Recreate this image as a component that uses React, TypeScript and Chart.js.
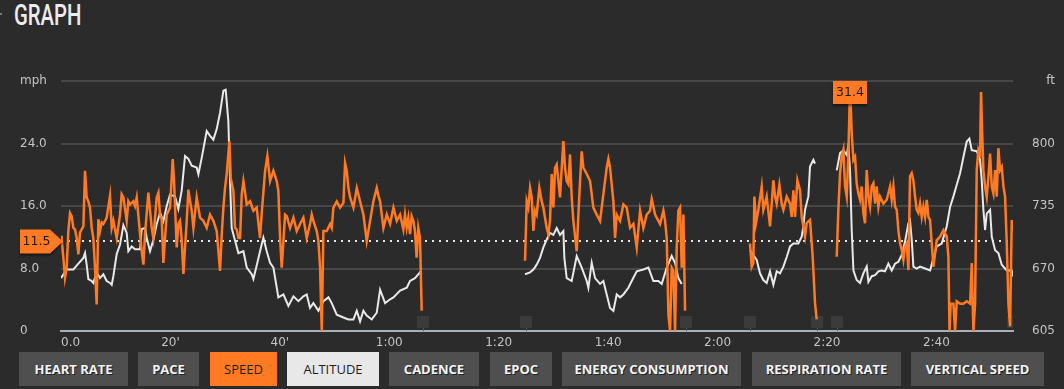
import React, { useEffect, useRef } from 'react';
import { Chart, registerables } from 'chart.js';

Chart.register(...registerables);

const ORANGE = '#ff7a22';
const ALT_COLOR = '#e9e9e9';

// time axis (minutes)
const X_TICKS = [0, 20, 40, 60, 80, 100, 120, 140, 160];
const X_MAX = 174;
// left axis (mph) and right axis (ft)
const SPEED_TICKS = [0, 8, 16, 24, 32];
const ALT_TICKS = [605, 670, 735, 800, 865];
const SPEED_UNIT = 'mph';
const ALT_UNIT = 'ft';
const AVG_SPEED = 11.5;
// lap markers (minutes)
const LAP_TIMES = [66.2, 85.0, 114.2, 126.0, 138.2, 141.8, 174.0];

const BUTTON_LABELS = ['HEART RATE', 'PACE', 'SPEED', 'ALTITUDE', 'CADENCE', 'EPOC', 'ENERGY CONSUMPTION', 'RESPIRATION RATE', 'VERTICAL SPEED'];
const BUTTON_STATES = ['off', 'off', 'speed', 'alt', 'off', 'off', 'off', 'off', 'off'];
const BUTTON_LEFT = [19, 138, 210, 287, 389, 490, 562, 752, 911];
const BUTTON_WIDTH = [109, 61, 67, 92, 90, 62, 179, 149, 133];

// [minute, mph]
const SPEED_SAMPLES: [number, number | null][] = [
  [0, 12.2], [0.12, 11.7], [0.43, 9.4], [0.73, 6.8], [1.04, 8.1], [1.34, 12.8], [1.65, 15.1], [1.95, 14.7], [2.26, 13.2], [2.56, 13.0],
  [2.87, 11.9], [3.17, 9.8], [3.48, 12.6], [3.78, 13.0], [4.09, 13.4], [4.39, 20.5], [4.69, 17.1], [5.0, 16.6], [5.3, 15.8], [5.61, 13.2],
  [5.91, 11.9], [6.22, 8.1], [6.52, 3.4], [6.83, 14.3], [7.13, 12.8], [7.44, 13.9], [7.74, 13.7], [8.35, 14.5], [8.96, 17.3], [9.27, 13.2],
  [9.57, 14.1], [10.18, 11.9], [10.79, 14.9], [11.09, 17.5], [11.4, 17.1], [12.01, 14.1], [12.31, 16.6], [12.62, 16.2], [13.23, 16.6], [13.53, 16.0],
  [13.84, 17.1], [14.45, 12.4], [14.75, 10.2], [15.06, 8.5], [15.36, 12.4], [15.97, 17.7], [16.27, 15.4], [16.58, 13.2], [16.88, 11.9], [17.49, 17.1],
  [17.8, 17.7], [18.1, 14.9], [18.41, 14.3], [18.71, 8.7], [19.02, 11.9], [19.32, 14.9], [19.93, 15.8], [20.42, 22.0], [20.66, 19.2], [21.15, 10.7],
  [21.45, 13.7], [21.76, 14.1], [22.06, 11.7], [22.37, 7.3], [22.67, 10.7], [22.98, 14.1], [23.28, 18.1], [23.59, 16.6], [23.89, 15.4], [24.2, 13.2],
  [24.8, 17.1], [25.41, 14.5], [26.02, 14.1], [26.63, 13.2], [27.24, 14.9], [27.85, 14.1], [28.46, 12.8], [29.07, 7.7], [29.38, 12.4], [29.68, 15.8],
  [29.98, 18.3], [30.29, 20.1], [30.78, 24.3], [31.02, 19.6], [31.51, 17.9], [31.81, 13.2], [32.12, 13.0], [32.42, 11.9], [32.73, 11.9], [33.03, 17.5],
  [33.34, 19.2], [33.95, 16.2], [34.55, 16.6], [35.16, 15.4], [35.77, 15.8], [36.38, 11.9], [36.69, 15.1], [37.3, 20.5], [37.72, 22.4], [38.21, 19.2],
  [38.82, 20.5], [39.43, 19.2], [39.73, 17.9], [40.04, 11.9], [40.34, 8.1], [40.65, 11.5], [40.95, 14.9], [41.26, 14.7], [41.87, 13.2], [42.48, 14.5],
  [43.09, 12.8], [43.7, 13.7], [44.3, 14.5], [44.91, 11.9], [45.52, 13.7], [45.83, 14.9], [46.13, 14.1], [46.74, 12.8], [47.05, 11.5], [47.35, 8.1],
  [47.66, 0], [47.96, 12.8], [48.57, 12.8], [49.18, 13.7], [49.48, 13.2], [49.79, 15.8], [50.4, 16.6], [51.01, 15.8], [51.62, 16.4], [51.92, 21.5],
  [52.23, 20.5], [52.53, 18.3], [52.84, 17.1], [53.45, 15.8], [54.06, 18.3], [54.66, 16.6], [55.27, 14.9], [55.88, 11.5], [56.49, 14.1], [57.1, 16.6],
  [57.71, 18.3], [58.02, 17.3], [58.32, 16.6], [58.93, 13.2], [59.54, 14.9], [60.15, 13.7], [60.76, 15.8], [61.37, 14.1], [61.98, 14.9], [62.57, 13.0],
  [62.87, 14.9], [63.18, 13.2], [63.48, 14.5], [63.79, 12.4], [64.09, 14.7], [64.4, 14.1], [64.7, 12.8], [65.0, 9.4], [65.31, 13.2], [65.62, 11.9],
  [65.92, 2.6], [75, null],
  [84.81, 9.0], [85.12, 16.6], [85.42, 15.8], [85.73, 18.3], [86.03, 17.1], [86.34, 12.8], [86.64, 15.4], [86.94, 14.9], [87.43, 18.3], [87.86, 16.6],
  [88.16, 15.8], [88.77, 13.2], [89.08, 12.4], [89.38, 14.1], [89.69, 20.1], [89.99, 15.8], [90.3, 20.9], [90.6, 21.3], [90.91, 19.2], [91.21, 17.1],
  [91.52, 20.9], [91.82, 24.3], [92.12, 20.9], [92.43, 19.2], [92.73, 18.8], [93.04, 22.6], [93.34, 17.1], [93.65, 14.1], [94.26, 10.2], [94.56, 14.9],
  [94.87, 19.2], [95.17, 23.0], [95.48, 20.9], [96.09, 20.1], [96.7, 19.2], [97.3, 15.8], [97.91, 14.9], [98.52, 14.1], [99.13, 17.5], [99.74, 20.9],
  [100.05, 22.0], [100.35, 20.9], [100.96, 16.6], [101.27, 11.9], [101.57, 14.9], [102.18, 14.1], [102.79, 16.2], [103.4, 15.8], [104.01, 13.2], [104.62, 13.7],
  [105.23, 10.7], [105.84, 15.4], [106.44, 13.2], [107.05, 14.9], [107.66, 15.4], [107.97, 16.9], [108.58, 14.9], [109.49, 13.7], [110.1, 15.4], [110.41, 14.1],
  [110.71, 11.9], [111.02, 2.1], [111.32, 0], [111.63, 8.1], [111.93, 7.7], [112.23, 0], [112.54, 10.7], [112.84, 15.4], [113.15, 15.8], [113.45, 8.1],
  [113.76, 14.9], [114.06, 2.6], [120, null],
  [125.93, 11.2], [126.24, 8.2], [126.54, 8.7], [126.73, 17.2], [127.03, 13.8], [127.46, 15.5], [128.07, 18.5], [128.37, 15.5], [128.98, 17.2], [129.59, 13.4],
  [129.9, 16.3], [130.2, 19.3], [130.51, 17.2], [130.81, 16.3], [131.3, 18.7], [131.72, 16.3], [132.03, 15.5], [132.64, 17.2], [133.25, 16.3], [133.55, 14.6],
  [133.86, 18.0], [134.16, 14.6], [134.59, 19.3], [135.08, 18.0], [135.38, 14.6], [135.99, 12.1], [136.29, 13.8], [136.9, 14.2], [137.39, 9.5], [137.82, 3.5],
  [138.12, 1.5], [140, null],
  [141.78, 9.5], [142.08, 15.5], [142.39, 20.2], [142.69, 22.3], [143.0, 23.2], [143.3, 18.5], [143.61, 17.2], [143.91, 22.7], [144.22, 31.4], [144.52, 25.3],
  [144.83, 21.9], [145.13, 22.3], [145.43, 18.9], [145.74, 17.6], [146.04, 16.8], [146.35, 18.5], [146.65, 15.1], [146.96, 13.8], [147.26, 20.6], [147.57, 17.2],
  [147.87, 15.9], [148.18, 18.5], [148.48, 18.9], [148.79, 16.3], [149.09, 18.5], [149.4, 15.9], [149.7, 17.2], [150.31, 16.3], [150.92, 16.8], [151.53, 18.5],
  [151.83, 16.8], [152.14, 18.5], [152.44, 15.9], [152.75, 15.5], [153.05, 12.9], [153.36, 11.2], [153.66, 10.4], [153.97, 9.1], [154.27, 10.8], [154.58, 11.2],
  [154.88, 7.8], [155.18, 19.8], [155.49, 20.2], [155.79, 19.3], [156.1, 17.2], [156.4, 15.5], [156.71, 15.1], [157.01, 16.3], [157.32, 14.6], [157.62, 15.9],
  [157.93, 14.6], [158.23, 16.8], [158.54, 14.6], [158.84, 14.2], [159.15, 11.2], [159.45, 8.2], [160.06, 11.6], [160.67, 12.1], [161.28, 12.9], [161.89, 12.1],
  [162.19, 9.5], [162.4, 0], [162.6, 3.5], [163.11, 3.5], [163.41, 0], [163.72, 3.8], [164.33, 3.5], [164.94, 3.5], [165.55, 3.8], [166.16, 3.5],
  [166.46, 8.7], [166.76, 0], [167.07, 3.5], [167.37, 20.6], [167.68, 23.2], [167.98, 22.7], [168.16, 30.6], [168.35, 25.7], [168.59, 20.6], [168.9, 18.5],
  [169.2, 17.2], [169.51, 19.8], [169.81, 22.7], [170.12, 18.5], [170.42, 17.6], [170.73, 20.6], [171.03, 17.2], [171.33, 23.4], [171.64, 20.6], [171.94, 21.0],
  [172.25, 18.5], [172.55, 17.2], [172.86, 11.2], [173.16, 3.5], [173.47, 0.6], [173.77, 14.2], [174.0, 12.9],
];

// [minute, ft]
const ALTITUDE_SAMPLES: [number, number | null][] = [
  [0, 660], [1.04, 669], [2.26, 669], [3.17, 675], [4.09, 681], [4.39, 686], [4.69, 674], [5.0, 659], [5.61, 657], [5.91, 655],
  [6.52, 666], [7.13, 660], [7.74, 664], [8.35, 657], [8.96, 655], [9.27, 653], [9.57, 662], [10.18, 685], [10.79, 695], [11.4, 715],
  [12.01, 707], [12.31, 688], [12.92, 693], [13.53, 690], [14.45, 690], [14.75, 711], [15.36, 712], [15.66, 702], [16.27, 688], [16.88, 700],
  [17.49, 716], [18.1, 728], [18.71, 719], [19.32, 735], [19.93, 747], [20.84, 745], [21.45, 732], [22.06, 751], [22.67, 787], [23.28, 784],
  [23.89, 777], [24.8, 775], [25.11, 768], [25.72, 785], [26.63, 813], [27.24, 808], [27.85, 804], [28.46, 815], [29.07, 832], [29.68, 855],
  [30.1, 856], [30.59, 823], [30.9, 761], [31.2, 712], [31.81, 699], [32.42, 686], [33.34, 688], [33.95, 671], [34.86, 664], [35.16, 659],
  [35.77, 673], [36.38, 688], [36.99, 702], [37.6, 688], [38.21, 676], [38.82, 671], [39.73, 640], [40.65, 643], [41.56, 631], [42.48, 641],
  [43.39, 636], [44.3, 641], [44.91, 643], [45.52, 629], [46.13, 634], [47.05, 626], [47.96, 636], [48.88, 640], [49.48, 634], [50.4, 622],
  [51.62, 619], [52.53, 617], [53.45, 617], [54.06, 626], [54.66, 615], [55.27, 626], [55.88, 621], [56.8, 617], [57.71, 624], [58.32, 648],
  [59.24, 634], [60.15, 638], [60.76, 640], [61.98, 647], [63.2, 650], [63.79, 657], [64.7, 660], [65.62, 666], [65.92, 664], [75, null],
  [84.81, 664], [85.73, 666], [86.34, 669], [86.94, 674], [87.55, 681], [88.16, 692], [88.77, 700], [89.38, 707], [89.99, 705], [90.6, 712],
  [91.21, 705], [91.82, 709], [92.0, 681], [92.43, 660], [93.34, 657], [94.26, 683], [95.17, 671], [96.09, 657], [96.39, 650], [97.0, 676],
  [97.61, 660], [98.52, 654], [99.13, 657], [99.74, 643], [100.35, 629], [100.96, 626], [101.57, 643], [102.18, 640], [102.79, 643], [103.7, 650],
  [104.31, 657], [105.23, 667], [106.44, 669], [107.36, 671], [108.27, 657], [109.19, 657], [109.8, 654], [110.71, 671], [111.62, 683], [112.23, 676],
  [112.84, 660], [113.45, 654], [120, null],
  [125.93, 689], [126.54, 684], [127.15, 679], [127.76, 665], [128.37, 658], [128.98, 655], [129.59, 667], [130.2, 653], [130.81, 667], [131.42, 665],
  [132.03, 672], [132.64, 682], [133.25, 693], [133.86, 696], [134.77, 696], [135.38, 703], [135.68, 714], [135.99, 731], [136.6, 745], [136.9, 776],
  [137.51, 783], [137.82, 779], [140, null],
  [141.78, 772], [142.39, 790], [143.0, 793], [143.61, 788], [143.91, 798], [144.22, 772], [144.52, 710], [144.83, 668], [145.43, 658], [146.04, 655],
  [146.65, 665], [147.26, 672], [147.57, 656], [148.18, 662], [148.79, 663], [149.4, 667], [150.01, 668], [150.61, 667], [151.22, 675], [151.83, 668],
  [152.44, 675], [153.05, 677], [153.66, 684], [154.27, 698], [154.88, 717], [155.18, 720], [155.49, 700], [155.79, 672], [156.4, 670], [157.01, 672],
  [157.93, 670], [158.84, 668], [159.45, 681], [160.06, 693], [160.97, 696], [161.89, 714], [162.5, 734], [163.11, 745], [163.72, 757], [164.33, 769],
  [164.94, 786], [165.55, 802], [166.03, 805], [166.46, 793], [167.37, 792], [167.98, 783], [168.28, 762], [168.59, 731], [168.9, 710], [169.2, 727],
  [169.81, 731], [170.12, 703], [170.73, 689], [171.33, 686], [171.94, 674], [172.86, 668], [173.77, 668], [174.0, 662],
];

const AXIS_FONT = { family: '"DejaVu Sans", sans-serif', size: 12 };
const AXIS_COLOR = '#c4c4c4';

const fmtTime = (v: number) => {
  if (v === 0) return '0.0';
  if (v < 60) return `${v}'`;
  return `${Math.floor(v / 60)}:${String(v % 60).padStart(2, '0')}`;
};

const overlayPlugin = {
  id: 'overlay',
  beforeDatasetsDraw(chart: any) {
    const { ctx, chartArea: ca, scales } = chart;
    const xs = scales.x;
    const ys = scales.y;
    ctx.save();
    ctx.beginPath();
    ctx.rect(ca.left, ca.top, ca.right - ca.left, ca.bottom - ca.top);
    ctx.clip();
    for (const t of LAP_TIMES) {
      const px = Math.round(xs.getPixelForValue(t));
      ctx.fillStyle = '#3b3b3b';
      ctx.fillRect(px - 6, ca.bottom - 15, 12, 12);
      ctx.fillStyle = '#555555';
      ctx.fillRect(px, ca.bottom - 3, 1, 3);
    }
    const ay = Math.round(ys.getPixelForValue(AVG_SPEED));
    ctx.strokeStyle = '#e8e8e8';
    ctx.lineWidth = 2;
    ctx.setLineDash([2, 5]);
    ctx.beginPath();
    ctx.moveTo(ca.left, ay);
    ctx.lineTo(ca.right, ay);
    ctx.stroke();
    ctx.restore();
  },
  afterDatasetsDraw(chart: any) {
    const { ctx, chartArea: ca, scales } = chart;
    const xs = scales.x;
    const ys = scales.y;
    const font = '12.5px "DejaVu Sans", sans-serif';

    // average tag
    const ay = Math.round(ys.getPixelForValue(AVG_SPEED)) + 0.5;
    const tagLeft = ys.left;
    ctx.save();
    ctx.shadowColor = 'rgba(0,0,0,0.5)';
    ctx.shadowOffsetY = 2;
    ctx.shadowBlur = 2;
    ctx.fillStyle = ORANGE;
    ctx.beginPath();
    ctx.moveTo(tagLeft, ay - 12);
    ctx.lineTo(tagLeft + 30, ay - 12);
    ctx.lineTo(ca.left + 2, ay);
    ctx.lineTo(tagLeft + 30, ay + 12);
    ctx.lineTo(tagLeft, ay + 12);
    ctx.closePath();
    ctx.fill();
    ctx.restore();
    ctx.save();
    ctx.fillStyle = '#1b1b1b';
    ctx.font = font;
    ctx.textAlign = 'center';
    ctx.textBaseline = 'middle';
    ctx.fillText(AVG_SPEED.toFixed(1), tagLeft + 16.5, ay + 0.5);
    ctx.restore();

    // max tag
    let best: [number, number] | null = null;
    for (const [t, v] of SPEED_SAMPLES) {
      if (v !== null && (best === null || v > best[1])) best = [t, v];
    }
    if (best) {
      const px = xs.getPixelForValue(best[0]);
      const py = ys.getPixelForValue(best[1]);
      const w = 34;
      const h = 23;
      ctx.save();
      ctx.shadowColor = 'rgba(0,0,0,0.5)';
      ctx.shadowOffsetY = 2;
      ctx.shadowBlur = 2;
      ctx.fillStyle = ORANGE;
      ctx.fillRect(Math.round(px - w / 2), Math.round(py - 5), w, h);
      ctx.restore();
      ctx.save();
      ctx.fillStyle = '#1b1b1b';
      ctx.font = font;
      ctx.textAlign = 'center';
      ctx.textBaseline = 'middle';
      ctx.fillText(best[1].toFixed(1), Math.round(px), Math.round(py - 5) + h / 2 + 0.5);
      ctx.restore();
    }
  },
};

function GraphChart() {
  const ref = useRef<HTMLCanvasElement | null>(null);
  useEffect(() => {
    if (!ref.current) return;
    const chart = new Chart(ref.current, {
      type: 'line',
      data: {
        datasets: [
          {
            label: 'Speed',
            data: SPEED_SAMPLES.map(([t, v]) => ({ x: t, y: v })),
            yAxisID: 'y',
            borderColor: ORANGE,
            borderWidth: 2.5,
            pointRadius: 0,
            tension: 0,
            spanGaps: false,
            order: 1,
          },
          {
            label: 'Altitude',
            data: ALTITUDE_SAMPLES.map(([t, v]) => ({ x: t, y: v })),
            yAxisID: 'y1',
            borderColor: ALT_COLOR,
            borderWidth: 2,
            pointRadius: 0,
            tension: 0,
            spanGaps: false,
            order: 2,
          },
        ],
      } as any,
      options: {
        animation: false,
        responsive: false,
        maintainAspectRatio: false,
        devicePixelRatio: 1,
        layout: { padding: { top: 81, left: 20, right: 9, bottom: 0 } },
        plugins: { legend: { display: false }, tooltip: { enabled: false } },
        scales: {
          x: {
            type: 'linear',
            min: X_TICKS[0],
            max: X_MAX,
            afterBuildTicks: (scale: any) => {
              scale.ticks = [...X_TICKS, X_MAX].map((value) => ({ value }));
            },
            afterFit: (scale: any) => {
              scale.height = 18;
            },
            ticks: {
              autoSkip: false,
              maxRotation: 0,
              align: 'inner',
              padding: 5,
              color: AXIS_COLOR,
              font: AXIS_FONT,
              callback: (v: any) => (X_TICKS.includes(Number(v)) ? fmtTime(Number(v)) : ''),
            },
            grid: { display: false, drawTicks: false },
            border: { display: true, color: '#a7b0b8', width: 2 },
          },
          y: {
            position: 'left',
            min: SPEED_TICKS[0],
            max: SPEED_TICKS[SPEED_TICKS.length - 1],
            afterFit: (scale: any) => {
              scale.width = 41;
            },
            ticks: {
              stepSize: SPEED_TICKS[1] - SPEED_TICKS[0],
              crossAlign: 'far',
              color: AXIS_COLOR,
              font: AXIS_FONT,
              callback: (v: any) => {
                const n = Number(v);
                if (n === SPEED_TICKS[SPEED_TICKS.length - 1]) return SPEED_UNIT;
                if (n === 0) return '0';
                return n.toFixed(1);
              },
            },
            grid: { color: '#474747', lineWidth: 2, drawTicks: false },
            border: { display: false },
          },
          y1: {
            position: 'right',
            min: ALT_TICKS[0],
            max: ALT_TICKS[ALT_TICKS.length - 1],
            afterFit: (scale: any) => {
              scale.width = 42;
            },
            ticks: {
              stepSize: ALT_TICKS[1] - ALT_TICKS[0],
              crossAlign: 'far',
              color: AXIS_COLOR,
              font: AXIS_FONT,
              callback: (v: any) => {
                const n = Number(v);
                if (n === ALT_TICKS[ALT_TICKS.length - 1]) return ALT_UNIT;
                return String(n);
              },
            },
            grid: { display: false, drawTicks: false },
            border: { display: false },
          },
        },
      } as any,
      plugins: [overlayPlugin],
    });
    return () => chart.destroy();
  }, []);
  return (
    <canvas
      ref={ref}
      width={1064}
      height={349}
      style={{ position: 'absolute', left: 0, top: 0, width: 1064, height: 349 }}
    />
  );
}

export default function App() {
  return (
    <div
      style={{
        position: 'fixed',
        left: 0,
        top: 0,
        width: 1064,
        height: 389,
        background: '#2b2b2b',
        overflow: 'hidden',
      }}
    >
      <div style={{ position: 'absolute', left: 0, top: 13, width: 2, height: 2, background: '#777' }} />
      <div
        style={{
          position: 'absolute',
          left: 14,
          top: 1,
          fontFamily: 'Roboto, sans-serif',
          fontSize: 29,
          fontWeight: 500,
          lineHeight: '29px',
          color: '#ececec',
          transform: 'scaleX(0.7)',
          transformOrigin: 'left top',
          whiteSpace: 'nowrap',
        }}
      >
        GRAPH
      </div>
      <GraphChart />
      {BUTTON_LABELS.map((label, i) => {
        const state = BUTTON_STATES[i];
        const bg = state === 'speed' ? ORANGE : state === 'alt' ? '#e8e8e8' : '#4f4f4f';
        const color = state === 'off' ? '#f4f4f4' : '#1e1e1e';
        return (
          <div
            key={label}
            style={{
              position: 'absolute',
              left: BUTTON_LEFT[i],
              top: 352,
              width: BUTTON_WIDTH[i],
              height: 34,
              background: bg,
              color,
              display: 'flex',
              alignItems: 'center',
              justifyContent: 'center',
              fontFamily: '"Open Sans", sans-serif',
              fontSize: 13,
              fontWeight: state === 'off' ? 700 : 400,
              textShadow: state === 'off' ? '1px 1px 0 #222' : 'none',
              whiteSpace: 'nowrap',
            }}
          >
            {label}
          </div>
        );
      })}
    </div>
  );
}
